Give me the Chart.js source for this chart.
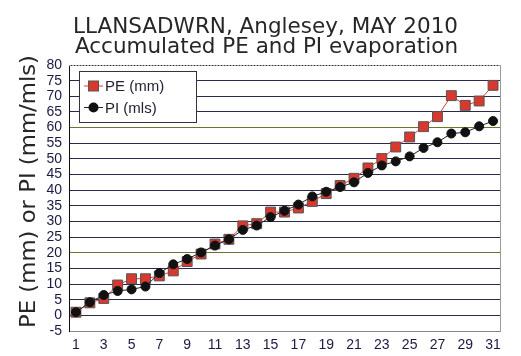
<!DOCTYPE html>
<html><head><meta charset="utf-8">
<script src="https://cdn.jsdelivr.net/npm/chart.js@4"></script>
<style>html,body{margin:0;padding:0;background:#fff}#w{width:521px;height:356px}</style>
</head><body><div id="w"><canvas id="c" width="521" height="356"></canvas></div>
<script>
const days = Array.from({length:31},(_,i)=>String(i+1));
const peValues = [1,4,5.4,9.7,11.7,11.7,12.6,14.2,17.2,19.6,22.8,24.3,28.6,29.3,33,33,34.3,36.4,38.9,41.5,43.8,47.1,50.1,53.8,57,60.3,63.5,70.2,67.1,68.5,73.5];
const piValues = [1,4.2,6.5,7.8,8.3,9.2,13.5,16.3,18,20.1,22.3,24.3,27.3,28.7,31.4,33.4,35.4,38,39.5,41,42.5,45.5,47.9,49.2,50.8,53.5,55.3,58.1,58.5,60.4,62.1];
const titleLines = ['LLANSADWRN, Anglesey, MAY 2010','Accumulated PE and PI evaporation'];
const yTitle = 'PE (mm) or PI (mm/mls)';

function fitText(ctx,text,x,y,width){
  const w = ctx.measureText(text).width;
  ctx.save(); ctx.translate(x,y); ctx.scale(width/w,1);
  ctx.textAlign='left'; ctx.fillText(text,0,0); ctx.restore();
}

const titlesPlugin = {
  id:'titles',
  afterDraw(chart){
    const ctx=chart.ctx;
    ctx.save();
    ctx.fillStyle='#262626';
    ctx.font='22px "DejaVu Sans", Verdana, sans-serif';
    ctx.textBaseline='alphabetic';
    fitText(ctx,titleLines[0],73,32.5,385);
    fitText(ctx,titleLines[1],75,53,383);
    ctx.translate(34.5,328); ctx.rotate(-Math.PI/2);
    fitText(ctx,yTitle,0,0,273);
    ctx.restore();
  }
};

const legendPlugin = {
  id:'boxLegend',
  afterDatasetsDraw(chart){
    const ctx = chart.ctx;
    ctx.save();
    ctx.fillStyle='#fff'; ctx.strokeStyle='#333344'; ctx.lineWidth=1;
    ctx.fillRect(79.5,71.5,117,51); ctx.strokeRect(79.5,71.5,117,51);
    const ds = chart.data.datasets;
    const rows=[86,107.5];
    ds.forEach((d,i)=>{
      const y=rows[i];
      ctx.strokeStyle=d.borderColor; ctx.lineWidth=1;
      ctx.beginPath(); ctx.moveTo(84,y); ctx.lineTo(103,y); ctx.stroke();
      ctx.fillStyle=d.pointBackgroundColor; ctx.strokeStyle=d.pointBorderColor;
      if(i===0){ ctx.fillRect(88.5,y-5,10,10); ctx.strokeRect(88.5,y-5,10,10); }
      else { ctx.beginPath(); ctx.arc(93.5,y,5,0,Math.PI*2); ctx.fill(); }
      ctx.fillStyle='#222233'; ctx.font='15px "Liberation Sans", Arial, sans-serif';
      ctx.textBaseline='middle'; ctx.textAlign='left';
      ctx.fillText(d.label,105,y+1);
    });
    ctx.restore();
  }
};

const framePlugin = {id:'frame',afterDraw(chart){const a=chart.chartArea,c=chart.ctx;c.save();
  c.strokeStyle='#999';c.lineWidth=1;
  c.beginPath();c.moveTo(Math.round(a.right)+0.5,Math.round(a.top));c.lineTo(Math.round(a.right)+0.5,Math.round(a.bottom)+1);c.stroke();
  c.strokeStyle='#9aaa9a';c.setLineDash([2,1]);
  c.beginPath();c.moveTo(Math.round(a.left),Math.round(a.top)+0.5);c.lineTo(Math.round(a.right)+1,Math.round(a.top)+0.5);c.stroke();
  c.restore();}};

new Chart(document.getElementById('c'),{
  type:'line',
  data:{labels:days,datasets:[
    {label:'PE (mm)',data:peValues,borderColor:'#e03a3a',borderWidth:1,backgroundColor:'#e03a3a',
     pointStyle:'rect',pointRadius:7,pointBackgroundColor:'#d9382f',pointBorderColor:'#555555',pointBorderWidth:1,order:1},
    {label:'PI (mls)',data:piValues,borderColor:'#222222',borderWidth:1,backgroundColor:'#111',
     pointStyle:'circle',pointRadius:4.5,pointBackgroundColor:'#111111',pointBorderColor:'#111111',pointBorderWidth:1,order:0}
  ]},
  options:{
    responsive:false,animation:false,
    layout:{padding:{left:0,right:21,top:65,bottom:0}},
    plugins:{legend:{display:false},tooltip:{enabled:false},title:{display:false}},
    scales:{
      x:{type:'category',offset:true,grid:{display:false,drawTicks:false},border:{color:'#888',width:1},
         afterFit:s=>{s.height=25;},
         ticks:{autoSkip:false,maxRotation:0,padding:6,color:'#1a1a44',font:{family:'"Liberation Sans", Arial, sans-serif',size:14},
           callback:function(v,i){return (i%2===0)?this.getLabelForValue(v):'';}}},
      y:{min:-5,max:80,
         afterFit:s=>{s.width=69;},
         grid:{drawTicks:false,color:ctx=>{const v=ctx.tick&&ctx.tick.value;return (v===20||v===60)?'#707030':'#2a2a4a';},lineWidth:1},
         border:{color:'#111',width:1},
         ticks:{stepSize:5,autoSkip:false,padding:7,color:'#1a1a44',font:{family:'"Liberation Sans", Arial, sans-serif',size:14}}}
    }
  },
  plugins:[legendPlugin,framePlugin,titlesPlugin]
});
</script></body></html>
